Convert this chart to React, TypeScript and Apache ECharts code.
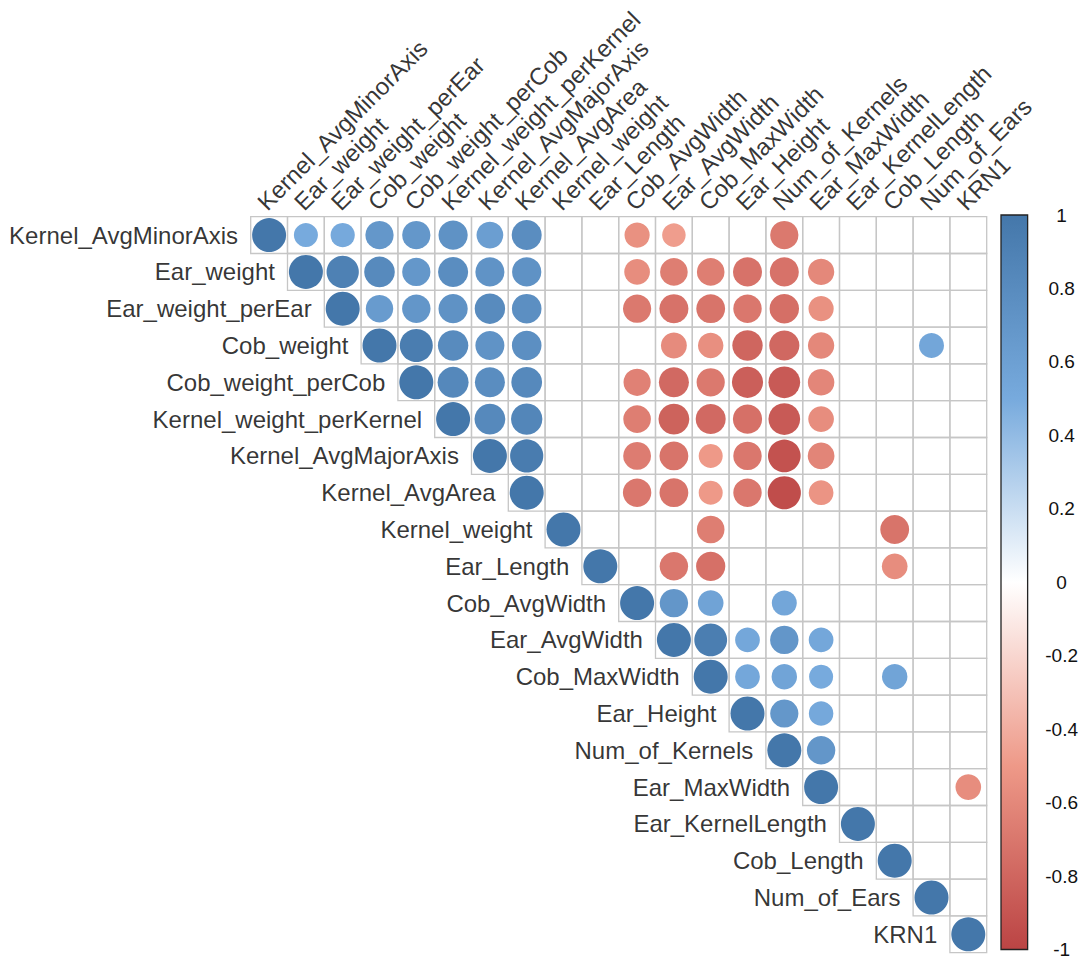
import React, { useEffect, useRef } from "react";
import * as echarts from "echarts";

const variables = [
  "Kernel_AvgMinorAxis",
  "Ear_weight",
  "Ear_weight_perEar",
  "Cob_weight",
  "Cob_weight_perCob",
  "Kernel_weight_perKernel",
  "Kernel_AvgMajorAxis",
  "Kernel_AvgArea",
  "Kernel_weight",
  "Ear_Length",
  "Cob_AvgWidth",
  "Ear_AvgWidth",
  "Cob_MaxWidth",
  "Ear_Height",
  "Num_of_Kernels",
  "Ear_MaxWidth",
  "Ear_KernelLength",
  "Cob_Length",
  "Num_of_Ears",
  "KRN1",
];

// Upper-triangle rows: each row starts at its diagonal cell; null = blank (not significant)
const r0 = [1, 0.5, 0.51, 0.69, 0.69, 0.74, 0.62, 0.78, null, null, -0.55, -0.48, null, null, -0.69, null, null, null, null, null];
const r1 = [1, 0.9, 0.81, 0.69, 0.78, 0.73, 0.74, null, null, -0.57, -0.66, -0.66, -0.73, -0.73, -0.6, null, null, null, null];
const r2 = [1, 0.65, 0.7, 0.74, 0.8, 0.76, null, null, -0.69, -0.73, -0.72, -0.7, -0.75, -0.55, null, null, null, null];
const r3 = [1, 0.94, 0.8, 0.73, 0.76, null, null, null, -0.58, -0.56, -0.8, -0.79, -0.6, null, null, 0.54, null];
const r4 = [1, 0.83, 0.78, 0.82, null, null, -0.64, -0.78, -0.69, -0.84, -0.87, -0.61, null, null, null, null];
const r5 = [1, 0.82, 0.85, null, null, -0.66, -0.82, -0.78, -0.74, -0.87, -0.57, null, null, null, null];
const r6 = [1, 0.95, null, null, -0.67, -0.72, -0.5, -0.7, -0.92, -0.62, null, null, null, null];
const r7 = [1, null, null, -0.7, -0.72, -0.5, -0.7, -0.95, -0.53, null, null, null, null];
const r8 = [1, null, null, null, -0.66, null, null, null, null, -0.72, null, null];
const r9 = [1, null, -0.7, -0.74, null, null, null, null, -0.57, null, null];
const r10 = [1, 0.7, 0.57, null, 0.54, null, null, null, null, null];
const r11 = [1, 0.93, 0.53, 0.7, 0.53, null, null, null, null];
const r12 = [1, 0.53, 0.56, 0.5, null, 0.56, null, null];
const r13 = [1, 0.69, 0.52, null, null, null, null];
const r14 = [1, 0.7, null, null, null, null];
const r15 = [1, null, null, null, -0.57];
const r16 = [1, null, null, null];
const r17 = [1, null, null];
const r18 = [1, null];
const r19 = [1];

const corrRows = [r0, r1, r2, r3, r4, r5, r6, r7, r8, r9, r10, r11, r12, r13, r14, r15, r16, r17, r18, r19];

const palette = ["#BB4444", "#EE9988", "#FFFFFF", "#77AADD", "#4477AA"];

const FONT = "'Liberation Sans', Arial, Helvetica, sans-serif";

export default function App() {
  const ref = useRef<HTMLDivElement>(null);

  useEffect(() => {
    if (!ref.current) return;
    const chart = echarts.init(ref.current, null, { renderer: "svg" });
    const n = variables.length;
    const cellPx = 736 / n;

    const circles: number[][] = [];
    const cells: number[][] = [];
    corrRows.forEach((row, i) => {
      row.forEach((v, k) => {
        const j = i + k;
        cells.push([j, i]);
        if (v !== null) circles.push([j, i, v as number]);
      });
    });

    const rowLabels = variables.map((_, i) => [i, i]);
    const colLabels = variables.map((_, j) => [j + 3 / cellPx, -0.5]);

    const option: any = {
      animation: false,
      backgroundColor: "#ffffff",
      grid: [
        { left: 250.7, top: 216.7, width: 736, height: 736 },
        { left: 1001, top: 215, width: 27, height: 736 },
      ],
      xAxis: [
        { gridIndex: 0, type: "value", min: -0.5, max: n - 0.5, show: false },
        { gridIndex: 1, type: "value", min: 0, max: 1, show: false },
      ],
      yAxis: [
        { gridIndex: 0, type: "value", min: -0.5, max: n - 0.5, inverse: true, show: false },
        {
          gridIndex: 1,
          type: "value",
          min: -1,
          max: 1,
          interval: 0.2,
          position: "right",
          axisLine: { show: false },
          splitLine: { show: false },
          axisTick: { show: true, length: 5, lineStyle: { color: "#333", width: 1 } },
          axisLabel: {
            show: true,
            margin: 34,
            align: "center",
            fontSize: 19,
            color: "#111",
            fontFamily: FONT,
          },
        },
      ],
      visualMap: {
        type: "continuous",
        show: false,
        min: -1,
        max: 1,
        dimension: 2,
        seriesIndex: 1,
        inRange: { color: palette },
      },
      series: [
        {
          type: "custom",
          xAxisIndex: 0,
          yAxisIndex: 0,
          silent: true,
          z: 1,
          data: cells,
          renderItem: (params: any, api: any) => {
            const j = api.value(0);
            const i = api.value(1);
            const p1 = api.coord([j - 0.5, i - 0.5]);
            const p2 = api.coord([j + 0.5, i + 0.5]);
            return {
              type: "rect",
              shape: {
                x: Math.min(p1[0], p2[0]),
                y: Math.min(p1[1], p2[1]),
                width: Math.abs(p2[0] - p1[0]),
                height: Math.abs(p2[1] - p1[1]),
              },
              style: { fill: "none", stroke: "#c6c6c6", lineWidth: 1.3 },
            };
          },
        },
        {
          type: "scatter",
          xAxisIndex: 0,
          yAxisIndex: 0,
          z: 3,
          clip: false,
          symbol: "circle",
          symbolSize: (val: number[]) => 34 * Math.sqrt(Math.abs(val[2])),
          itemStyle: { opacity: 1 },
          data: circles,
        },
        {
          type: "scatter",
          xAxisIndex: 0,
          yAxisIndex: 0,
          silent: true,
          clip: false,
          symbolSize: 0,
          data: rowLabels,
          label: {
            show: true,
            position: "left",
            distance: 31,
            fontSize: 24,
            color: "#000",
            fontFamily: FONT,
            formatter: (p: any) => variables[p.dataIndex],
          },
        },
        {
          type: "scatter",
          xAxisIndex: 0,
          yAxisIndex: 0,
          silent: true,
          clip: false,
          symbolSize: 0,
          data: colLabels,
          label: {
            show: true,
            position: "inside",
            rotate: 45,
            align: "left",
            verticalAlign: "bottom",
            offset: [0, -3],
            fontSize: 24,
            color: "#000",
            fontFamily: FONT,
            formatter: (p: any) => variables[p.dataIndex],
          },
        },
        {
          type: "custom",
          xAxisIndex: 1,
          yAxisIndex: 1,
          silent: true,
          data: [[0.5, 0]],
          renderItem: (params: any, api: any) => {
            const a = api.coord([0, 1]);
            const b = api.coord([1, -1]);
            return {
              type: "rect",
              shape: { x: a[0], y: a[1], width: b[0] - a[0], height: b[1] - a[1] },
              style: {
                fill: new echarts.graphic.LinearGradient(0, 0, 0, 1, [
                  { offset: 0, color: palette[4] },
                  { offset: 0.25, color: palette[3] },
                  { offset: 0.5, color: palette[2] },
                  { offset: 0.75, color: palette[1] },
                  { offset: 1, color: palette[0] },
                ]),
                stroke: "#222",
                lineWidth: 1.3,
              },
            };
          },
        },
      ],
    };

    chart.setOption(option);
    return () => chart.dispose();
  }, []);

  return (
    <div
      ref={ref}
      style={{ position: "fixed", left: 0, top: 0, width: 1081, height: 959, background: "#fff" }}
    />
  );
}
